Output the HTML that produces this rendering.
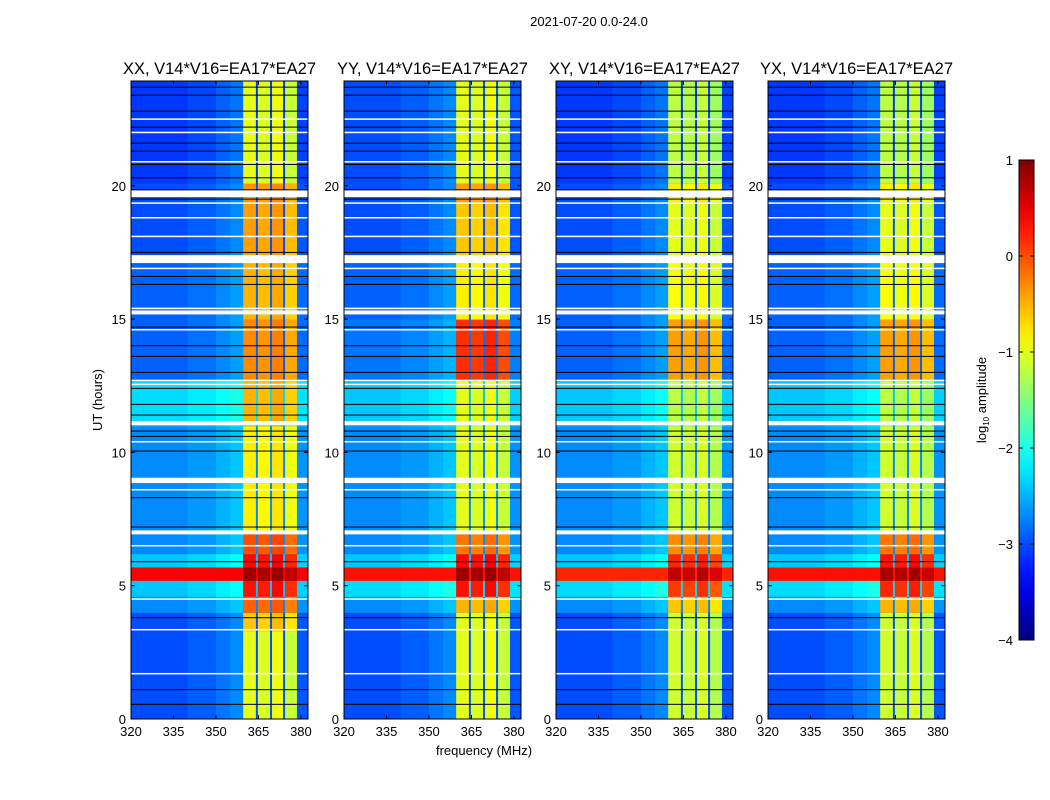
<!DOCTYPE html>
<html><head><meta charset="utf-8">
<style>
body{margin:0;background:#fff;}
svg{display:block;font-family:"Liberation Sans",sans-serif;}
</style></head>
<body>
<svg id="fig" width="1050" height="800" viewBox="0 0 1050 800">
<rect width="1050" height="800" fill="#fff"/>
<text x="589" y="26" font-size="13" text-anchor="middle">2021-07-20 0.0-24.0</text>
<text x="484" y="755" font-size="13" text-anchor="middle">frequency (MHz)</text>
<text x="102" y="400" font-size="13" text-anchor="middle" transform="rotate(-90 102 400)">UT (hours)</text>
<g id="panels"></g>
<g id="cbar"></g>
</svg>
<script>
// ---- data ----
const panelTitles = ["XX, V14*V16=EA17*EA27","YY, V14*V16=EA17*EA27","XY, V14*V16=EA17*EA27","YX, V14*V16=EA17*EA27"];
const segEdges = [0,3.3,4.0,4.6,5.2,5.7,6.2,7.0,11.0,12.7,15.0,17.3,19.4,20.1,23.93];
const bgXX = [-3.0,-3.0,-2.7,-2.4,0.4,-2.4,-2.7,-2.7,-2.3,-2.9,-2.9,-3.0,-3.0,-3.1];
const bgYY = [-3.0,-3.0,-2.7,-2.3,0.3,-2.4,-2.7,-2.7,-2.4,-2.8,-2.9,-3.0,-3.0,-3.0];
const bgXY = [-3.0,-3.0,-2.7,-2.3,0.2,-2.4,-2.7,-2.7,-2.4,-2.9,-2.9,-3.0,-3.0,-3.1];
const bgYX = [-3.0,-3.0,-2.7,-2.3,0.3,-2.4,-2.7,-2.7,-2.4,-2.9,-2.9,-3.0,-3.0,-3.1];
const bandXX = [-1.0,-0.6,-0.1,0.3,0.85,0.35,0.0,-0.8,-0.5,-0.3,-0.5,-0.4,-0.35,-1.0];
const bandYY = [-1.0,-1.0,-0.5,0.3,0.85,0.35,-0.2,-1.0,-1.0,0.15,-0.8,-0.6,-0.4,-1.0];
const bandXY = [-1.1,-1.1,-0.6,0.1,0.7,0.2,-0.3,-1.1,-1.2,-0.4,-0.9,-1.0,-0.8,-1.2];
const bandYX = [-1.1,-1.1,-0.5,0.2,0.8,0.3,-0.2,-1.1,-1.2,-0.4,-0.9,-1.0,-0.8,-1.2];
const bgByPanel = [bgXX,bgYY,bgXY,bgYX];
const bandByPanel = [bandXX,bandYY,bandXY,bandYX];
const subbandEdges = [359.6,364.1,364.8,369.1,369.8,373.7,374.4,378.6];
const subbandOffset = [0,-0.05,0.05,-0.15];
const bgFreqEdges = [320,340,350,355,359.6,378.6,382.5];
const bgFreqOffset = [0,0.08,0.2,0.3,0,0.05];
const whiteRows = [22.5,22.0,20.9,19.7,19.35,18.8,18.1,17.25,16.9,15.4,15.25,14.6,12.7,12.55,11.1,10.4,8.95,8.6,7.0,6.5,4.5,3.35,1.7];
const whiteWidth = [0.05,0.05,0.05,0.25,0.05,0.05,0.05,0.3,0.05,0.05,0.15,0.05,0.05,0.05,0.15,0.05,0.2,0.05,0.15,0.05,0.05,0.05,0.05];
const blackRows = [23.7,23.4,22.8,22.2,21.6,21.3,20.8,20.3,19.85,19.5,17.5,16.6,16.3,14.7,14.0,13.6,13.0,12.4,11.8,11.4,10.8,10.6,10.05,8.3,7.2,5.9,3.8,1.1,0.55];
const xTicks = [320,335,350,365,380];
const yTicks = [0,5,10,15,20];
const cbTicks = [1,0,-1,-2,-3,-4];
// ---- layout ----
const lefts=[131,344,556,768], W=177, plotTop=81, plotBot=719;
const fMin=320,fMax=382.5,hMax=23.93;
const NS="http://www.w3.org/2000/svg";
function jet(v){let t=(v+4)/5;t=Math.max(0,Math.min(1,t));
 const c=x=>Math.round(255*Math.max(0,Math.min(1,1.5-Math.abs(x))));
 return `rgb(${c(4*t-3)},${c(4*t-2)},${c(4*t-1)})`;}
function mk(tag,attrs,parent){const e=document.createElementNS(NS,tag);for(const k in attrs)e.setAttribute(k,attrs[k]);parent.appendChild(e);return e;}
const panels=document.getElementById('panels');
lefts.forEach((L,p)=>{
 const xs=f=>L+(f-fMin)/(fMax-fMin)*W;
 const ys=h=>plotBot-h/hMax*(plotBot-plotTop);
 const g=mk('g',{},panels);
 
 
 const bg=bgByPanel[p], band=bandByPanel[p];
 for(let s=0;s<segEdges.length-1;s++){
  const y0=ys(segEdges[s+1]),y1=ys(segEdges[s]);
  for(let b=0;b<bgFreqEdges.length-1;b++){
   const r=mk('rect',{x:xs(bgFreqEdges[b]),y:y0,width:xs(bgFreqEdges[b+1])-xs(bgFreqEdges[b])+0.5,height:y1-y0+0.5,fill:jet(bg[s]+(bg[s]<-1?bgFreqOffset[b]:0))},g);
   
   
  }
  for(let k=0;k<4;k++){
   const f0=subbandEdges[2*k],f1=subbandEdges[2*k+1];
   const r=mk('rect',{x:xs(f0),y:y0,width:xs(f1)-xs(f0),height:y1-y0+0.5,fill:jet(band[s]+subbandOffset[k])},g);
   
   
  }
 }
 blackRows.forEach(h=>{const r=mk('rect',{x:L,y:ys(h)-0.5,width:W,height:1,fill:'#000'},g);
  
  });
 whiteRows.forEach((h,i)=>{const hh=Math.max(1.5,whiteWidth[i]/hMax*(plotBot-plotTop));const r=mk('rect',{x:L,y:ys(h)-hh/2,width:W,height:hh,fill:'#fff'},g);
  
  });
 const fr=mk('rect',{x:L,y:plotTop,width:W,height:plotBot-plotTop,fill:'none',stroke:'#000','stroke-width':1},g);
 
 
 const t=mk('text',{x:L+W/2,y:74,'font-size':16.5,'text-anchor':'middle'},g);t.textContent=panelTitles[p];
 
 
 xTicks.forEach(v=>{const x=xs(v);
  mk('line',{x1:x,x2:x,y1:plotBot,y2:plotBot-4,stroke:'#000'},g);mk('line',{x1:x,x2:x,y1:plotTop,y2:plotTop+4,stroke:'#000'},g);
  const tx=mk('text',{x:x,y:plotBot+17,'font-size':13,'text-anchor':'middle'},g);tx.textContent=v;
  
  });
 yTicks.forEach(v=>{const y=ys(v);
  mk('line',{x1:L,x2:L+4,y1:y,y2:y,stroke:'#000'},g);mk('line',{x1:L+W,x2:L+W-4,y1:y,y2:y,stroke:'#000'},g);
  const tx=mk('text',{x:L-5,y:y+5,'font-size':13,'text-anchor':'end'},g);tx.textContent=v;
  
  });
});
// colorbar
const cb=document.getElementById('cbar');
const cx=1019,cw=15,ct=160,cbm=640;
const cys=v=>cbm-(v+4)/5*(cbm-ct);
const defs=mk('defs',{},cb);const lg=mk('linearGradient',{id:'jetg',x1:0,y1:1,x2:0,y2:0},defs);
for(let i=0;i<=20;i++){mk('stop',{offset:i/20,'stop-color':jet(-4+5*i/20)},lg);}
const cr=mk('rect',{x:cx,y:ct,width:cw,height:cbm-ct,fill:'url(#jetg)',stroke:'#000','stroke-width':1},cb);


cbTicks.forEach(v=>{const y=cys(v);
 mk('line',{x1:cx,x2:cx+4,y1:y,y2:y,stroke:'#000'},cb);mk('line',{x1:cx+cw,x2:cx+cw-4,y1:y,y2:y,stroke:'#000'},cb);
 const t=mk('text',{x:1013,y:y+5,'font-size':13,'text-anchor':'end'},cb);t.textContent=v<0?'\u2212'+(-v):v;
 
 });
const cl=mk('text',{x:986,y:400,'font-size':13,'text-anchor':'middle',transform:'rotate(-90 986 400)'},cb);


const s1=mk('tspan',{},cl);s1.textContent='log';
const s2=mk('tspan',{'font-size':8,dy:3},cl);s2.textContent='10';
const s3=mk('tspan',{dy:-3},cl);s3.textContent=' amplitude';
</script>
</body></html>
